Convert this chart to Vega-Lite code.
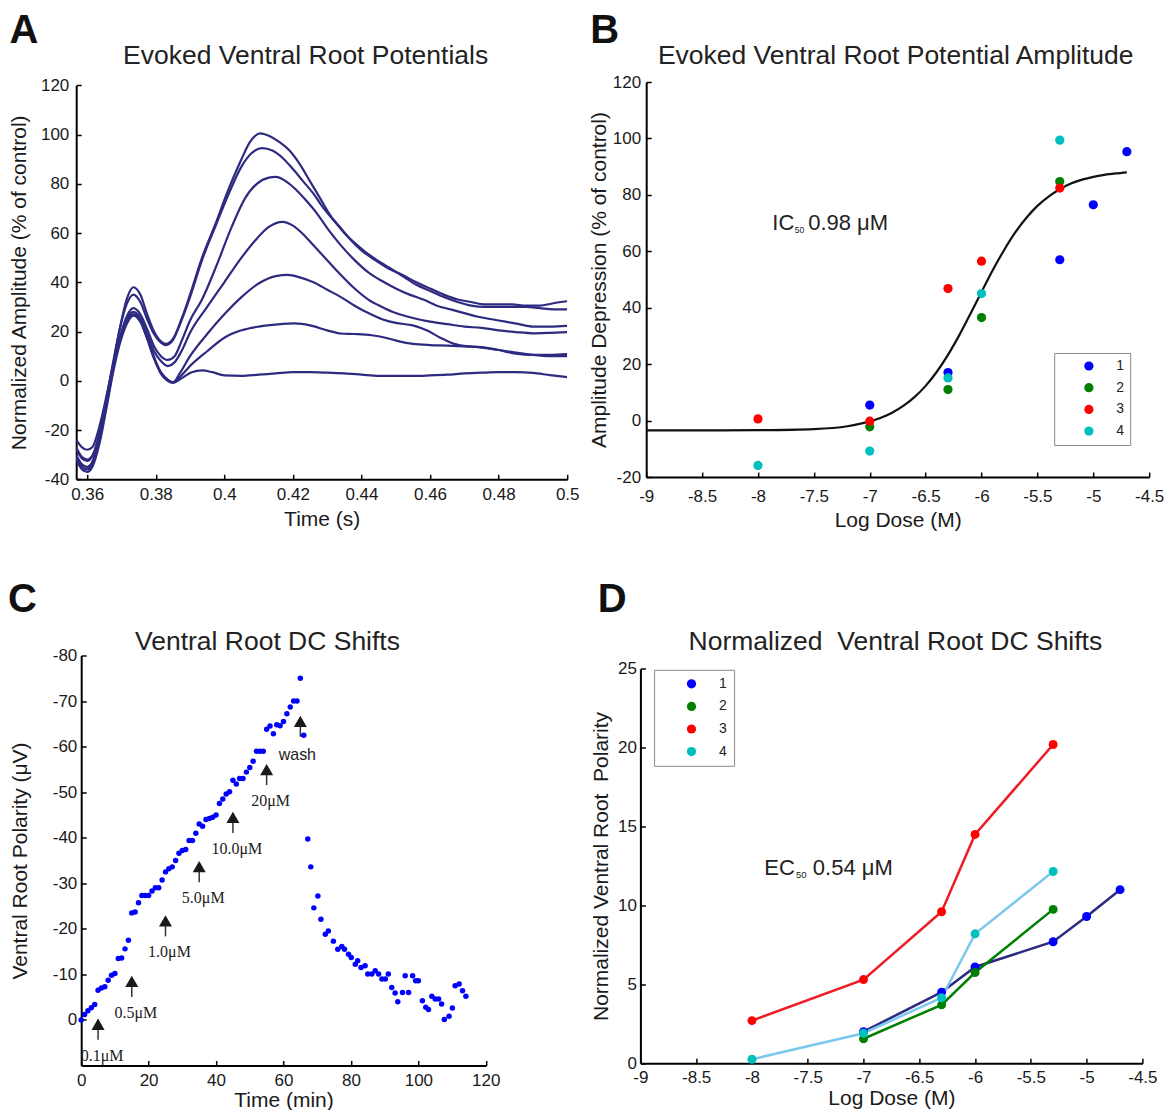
{
"$schema": "https://vega.github.io/schema/vega-lite/v6.json",
"padding": {"left": 7.2, "top": 11, "right": 0, "bottom": 2},
"config": {
  "view": {"stroke": null},
  "font": "Liberation Sans",
  "axis": {"domainColor": "#000", "domainWidth": 2, "tickColor": "#000", "tickWidth": 1.5, "tickSize": -5, "labelFontSize": 17, "labelColor": "#1a1a1a", "labelFont": "Liberation Sans", "titleFont": "Liberation Sans", "titleFontSize": 21, "titleFontWeight": "normal", "titleColor": "#1a1a1a", "grid": false, "labelFlush": false, "labelOverlap": false}
},
"datasets": {
  "traces": [
{"c":1,"t":0.3568,"v":-31},{"c":1,"t":0.3585,"v":-34},{"c":1,"t":0.36,"v":-35},{"c":1,"t":0.3615,"v":-33},{"c":1,"t":0.3635,"v":-24},{"c":1,"t":0.3655,"v":-10},{"c":1,"t":0.3675,"v":6},{"c":1,"t":0.3695,"v":21},{"c":1,"t":0.3715,"v":33},{"c":1,"t":0.3735,"v":38},{"c":1,"t":0.3755,"v":35},{"c":1,"t":0.3775,"v":27},{"c":1,"t":0.3795,"v":20},{"c":1,"t":0.3815,"v":16},{"c":1,"t":0.383,"v":15},{"c":1,"t":0.385,"v":17},{"c":1,"t":0.3875,"v":25},{"c":1,"t":0.39,"v":35},{"c":1,"t":0.3935,"v":50},{"c":1,"t":0.3975,"v":64},{"c":1,"t":0.401,"v":77},{"c":1,"t":0.405,"v":90},{"c":1,"t":0.4075,"v":97},{"c":1,"t":0.4105,"v":100.5},{"c":1,"t":0.413,"v":99.5},{"c":1,"t":0.416,"v":97},{"c":1,"t":0.419,"v":93.5},{"c":1,"t":0.422,"v":88},{"c":1,"t":0.425,"v":81},{"c":1,"t":0.428,"v":74},{"c":1,"t":0.431,"v":67},{"c":1,"t":0.434,"v":62},{"c":1,"t":0.437,"v":57},{"c":1,"t":0.44,"v":53},{"c":1,"t":0.444,"v":49},{"c":1,"t":0.448,"v":45.5},{"c":1,"t":0.452,"v":43},{"c":1,"t":0.456,"v":40},{"c":1,"t":0.46,"v":37.5},{"c":1,"t":0.464,"v":35},{"c":1,"t":0.468,"v":33},{"c":1,"t":0.472,"v":32},{"c":1,"t":0.476,"v":31},{"c":1,"t":0.48,"v":31},{"c":1,"t":0.484,"v":31},{"c":1,"t":0.488,"v":30.5},{"c":1,"t":0.492,"v":30.5},{"c":1,"t":0.496,"v":31.5},{"c":1,"t":0.5,"v":32.3},
{"c":2,"t":0.3568,"v":-28},{"c":2,"t":0.3585,"v":-31.5},{"c":2,"t":0.36,"v":-32.5},{"c":2,"t":0.3615,"v":-30.5},{"c":2,"t":0.3635,"v":-22},{"c":2,"t":0.3655,"v":-8},{"c":2,"t":0.3675,"v":7},{"c":2,"t":0.3695,"v":21},{"c":2,"t":0.3715,"v":31},{"c":2,"t":0.3735,"v":35},{"c":2,"t":0.3755,"v":32},{"c":2,"t":0.3775,"v":25},{"c":2,"t":0.3795,"v":19},{"c":2,"t":0.3815,"v":15.5},{"c":2,"t":0.383,"v":14.5},{"c":2,"t":0.385,"v":16.5},{"c":2,"t":0.3875,"v":24.5},{"c":2,"t":0.39,"v":34},{"c":2,"t":0.3935,"v":49},{"c":2,"t":0.3975,"v":63},{"c":2,"t":0.401,"v":75},{"c":2,"t":0.405,"v":87},{"c":2,"t":0.408,"v":92.5},{"c":2,"t":0.411,"v":94.5},{"c":2,"t":0.414,"v":93.5},{"c":2,"t":0.417,"v":90.5},{"c":2,"t":0.42,"v":86},{"c":2,"t":0.423,"v":81},{"c":2,"t":0.426,"v":76},{"c":2,"t":0.429,"v":70},{"c":2,"t":0.432,"v":65},{"c":2,"t":0.435,"v":60},{"c":2,"t":0.438,"v":56},{"c":2,"t":0.441,"v":52.5},{"c":2,"t":0.444,"v":49.5},{"c":2,"t":0.448,"v":46},{"c":2,"t":0.452,"v":42.5},{"c":2,"t":0.456,"v":39},{"c":2,"t":0.46,"v":36.5},{"c":2,"t":0.464,"v":34},{"c":2,"t":0.468,"v":32},{"c":2,"t":0.472,"v":30.5},{"c":2,"t":0.476,"v":30},{"c":2,"t":0.48,"v":30},{"c":2,"t":0.484,"v":30},{"c":2,"t":0.488,"v":30},{"c":2,"t":0.492,"v":29.5},{"c":2,"t":0.496,"v":29},{"c":2,"t":0.5,"v":29},
{"c":3,"t":0.3568,"v":-31},{"c":3,"t":0.3585,"v":-35},{"c":3,"t":0.36,"v":-36},{"c":3,"t":0.3615,"v":-34},{"c":3,"t":0.3635,"v":-25},{"c":3,"t":0.3655,"v":-11},{"c":3,"t":0.3675,"v":4},{"c":3,"t":0.3695,"v":17},{"c":3,"t":0.3715,"v":26},{"c":3,"t":0.3735,"v":29.5},{"c":3,"t":0.3755,"v":27},{"c":3,"t":0.3775,"v":21},{"c":3,"t":0.3795,"v":14},{"c":3,"t":0.3815,"v":10},{"c":3,"t":0.3835,"v":8.5},{"c":3,"t":0.3855,"v":10},{"c":3,"t":0.3875,"v":16},{"c":3,"t":0.39,"v":24.5},{"c":3,"t":0.3935,"v":33},{"c":3,"t":0.3975,"v":46},{"c":3,"t":0.402,"v":62},{"c":3,"t":0.406,"v":74},{"c":3,"t":0.4095,"v":80},{"c":3,"t":0.413,"v":82.5},{"c":3,"t":0.415,"v":82.8},{"c":3,"t":0.418,"v":81},{"c":3,"t":0.421,"v":77.5},{"c":3,"t":0.424,"v":73},{"c":3,"t":0.427,"v":68},{"c":3,"t":0.43,"v":62},{"c":3,"t":0.434,"v":55},{"c":3,"t":0.438,"v":49},{"c":3,"t":0.442,"v":44},{"c":3,"t":0.446,"v":40.5},{"c":3,"t":0.45,"v":37.5},{"c":3,"t":0.454,"v":35},{"c":3,"t":0.458,"v":33},{"c":3,"t":0.462,"v":30.5},{"c":3,"t":0.466,"v":29},{"c":3,"t":0.47,"v":27.5},{"c":3,"t":0.474,"v":26},{"c":3,"t":0.478,"v":25},{"c":3,"t":0.482,"v":24},{"c":3,"t":0.486,"v":23},{"c":3,"t":0.49,"v":22},{"c":3,"t":0.495,"v":22},{"c":3,"t":0.5,"v":22.3},
{"c":4,"t":0.3568,"v":-30},{"c":4,"t":0.3585,"v":-34},{"c":4,"t":0.36,"v":-35},{"c":4,"t":0.3615,"v":-33},{"c":4,"t":0.3635,"v":-24},{"c":4,"t":0.3655,"v":-10},{"c":4,"t":0.3675,"v":5},{"c":4,"t":0.3695,"v":17},{"c":4,"t":0.3715,"v":25},{"c":4,"t":0.3735,"v":28},{"c":4,"t":0.3755,"v":25.5},{"c":4,"t":0.3775,"v":19},{"c":4,"t":0.3795,"v":12},{"c":4,"t":0.3815,"v":8},{"c":4,"t":0.3835,"v":6},{"c":4,"t":0.3855,"v":7.5},{"c":4,"t":0.3875,"v":12},{"c":4,"t":0.39,"v":19.5},{"c":4,"t":0.395,"v":30},{"c":4,"t":0.4,"v":40},{"c":4,"t":0.405,"v":50},{"c":4,"t":0.409,"v":57},{"c":4,"t":0.413,"v":62.5},{"c":4,"t":0.417,"v":64.5},{"c":4,"t":0.42,"v":63},{"c":4,"t":0.423,"v":59.5},{"c":4,"t":0.426,"v":55},{"c":4,"t":0.43,"v":49},{"c":4,"t":0.434,"v":43},{"c":4,"t":0.438,"v":37.5},{"c":4,"t":0.442,"v":33},{"c":4,"t":0.446,"v":30},{"c":4,"t":0.45,"v":27.5},{"c":4,"t":0.455,"v":25.5},{"c":4,"t":0.46,"v":24},{"c":4,"t":0.465,"v":23},{"c":4,"t":0.47,"v":22},{"c":4,"t":0.475,"v":21.5},{"c":4,"t":0.48,"v":20.5},{"c":4,"t":0.485,"v":19.8},{"c":4,"t":0.49,"v":19.3},{"c":4,"t":0.495,"v":19.5},{"c":4,"t":0.5,"v":19.8},
{"c":5,"t":0.3568,"v":-32},{"c":5,"t":0.3585,"v":-36},{"c":5,"t":0.36,"v":-37},{"c":5,"t":0.3615,"v":-35},{"c":5,"t":0.3635,"v":-26},{"c":5,"t":0.3655,"v":-12},{"c":5,"t":0.3675,"v":3},{"c":5,"t":0.3695,"v":15},{"c":5,"t":0.3715,"v":23},{"c":5,"t":0.3735,"v":26.5},{"c":5,"t":0.3755,"v":24},{"c":5,"t":0.3775,"v":17},{"c":5,"t":0.3795,"v":9},{"c":5,"t":0.3815,"v":3},{"c":5,"t":0.3835,"v":0},{"c":5,"t":0.385,"v":-0.7},{"c":5,"t":0.387,"v":3},{"c":5,"t":0.39,"v":10},{"c":5,"t":0.395,"v":19},{"c":5,"t":0.4,"v":27},{"c":5,"t":0.405,"v":34},{"c":5,"t":0.41,"v":39.5},{"c":5,"t":0.415,"v":42.5},{"c":5,"t":0.4185,"v":43},{"c":5,"t":0.422,"v":42},{"c":5,"t":0.426,"v":40},{"c":5,"t":0.43,"v":37},{"c":5,"t":0.434,"v":34},{"c":5,"t":0.438,"v":30.5},{"c":5,"t":0.442,"v":27.5},{"c":5,"t":0.446,"v":25},{"c":5,"t":0.45,"v":23.5},{"c":5,"t":0.455,"v":22.5},{"c":5,"t":0.459,"v":20.5},{"c":5,"t":0.463,"v":17.5},{"c":5,"t":0.467,"v":15},{"c":5,"t":0.471,"v":14},{"c":5,"t":0.476,"v":13.5},{"c":5,"t":0.48,"v":12.5},{"c":5,"t":0.485,"v":11},{"c":5,"t":0.49,"v":10.5},{"c":5,"t":0.495,"v":10.5},{"c":5,"t":0.5,"v":10.8},
{"c":6,"t":0.3568,"v":-24},{"c":6,"t":0.3585,"v":-27},{"c":6,"t":0.36,"v":-28},{"c":6,"t":0.3615,"v":-27},{"c":6,"t":0.3635,"v":-19},{"c":6,"t":0.3655,"v":-7},{"c":6,"t":0.3675,"v":6},{"c":6,"t":0.3695,"v":17},{"c":6,"t":0.3715,"v":24.5},{"c":6,"t":0.3735,"v":27},{"c":6,"t":0.3755,"v":24.5},{"c":6,"t":0.3775,"v":17.5},{"c":6,"t":0.3795,"v":9.5},{"c":6,"t":0.3815,"v":3.5},{"c":6,"t":0.3835,"v":0.5},{"c":6,"t":0.385,"v":-0.5},{"c":6,"t":0.387,"v":1.5},{"c":6,"t":0.39,"v":6},{"c":6,"t":0.395,"v":12},{"c":6,"t":0.4,"v":17.5},{"c":6,"t":0.405,"v":20.5},{"c":6,"t":0.41,"v":22},{"c":6,"t":0.415,"v":22.8},{"c":6,"t":0.4205,"v":23.3},{"c":6,"t":0.425,"v":22.5},{"c":6,"t":0.43,"v":20.5},{"c":6,"t":0.434,"v":19.2},{"c":6,"t":0.438,"v":19},{"c":6,"t":0.443,"v":18.5},{"c":6,"t":0.447,"v":17.5},{"c":6,"t":0.451,"v":16},{"c":6,"t":0.455,"v":15},{"c":6,"t":0.46,"v":14.5},{"c":6,"t":0.465,"v":14.3},{"c":6,"t":0.47,"v":14},{"c":6,"t":0.475,"v":13.5},{"c":6,"t":0.48,"v":12.5},{"c":6,"t":0.485,"v":11.5},{"c":6,"t":0.49,"v":10.5},{"c":6,"t":0.495,"v":10},{"c":6,"t":0.5,"v":10},
{"c":7,"t":0.3568,"v":-27},{"c":7,"t":0.3585,"v":-31},{"c":7,"t":0.36,"v":-32},{"c":7,"t":0.3615,"v":-30.5},{"c":7,"t":0.3635,"v":-22},{"c":7,"t":0.3655,"v":-9},{"c":7,"t":0.3675,"v":5},{"c":7,"t":0.3695,"v":16},{"c":7,"t":0.3715,"v":24},{"c":7,"t":0.3735,"v":27},{"c":7,"t":0.3755,"v":24.5},{"c":7,"t":0.3775,"v":17.5},{"c":7,"t":0.3795,"v":9.5},{"c":7,"t":0.3815,"v":3},{"c":7,"t":0.3835,"v":0},{"c":7,"t":0.385,"v":-0.8},{"c":7,"t":0.3875,"v":1},{"c":7,"t":0.3905,"v":3.5},{"c":7,"t":0.3935,"v":4.2},{"c":7,"t":0.3965,"v":3.5},{"c":7,"t":0.4,"v":2.2},{"c":7,"t":0.405,"v":2},{"c":7,"t":0.41,"v":2.5},{"c":7,"t":0.415,"v":3},{"c":7,"t":0.42,"v":3.5},{"c":7,"t":0.425,"v":3.5},{"c":7,"t":0.43,"v":3.3},{"c":7,"t":0.435,"v":3},{"c":7,"t":0.44,"v":2.5},{"c":7,"t":0.445,"v":2},{"c":7,"t":0.45,"v":2},{"c":7,"t":0.455,"v":2},{"c":7,"t":0.46,"v":2.2},{"c":7,"t":0.465,"v":2.5},{"c":7,"t":0.47,"v":3},{"c":7,"t":0.475,"v":3.3},{"c":7,"t":0.48,"v":3.5},{"c":7,"t":0.485,"v":3.5},{"c":7,"t":0.49,"v":3.2},{"c":7,"t":0.495,"v":2.3},{"c":7,"t":0.5,"v":1.5}
  ],
  "amp": [
{"s":"1","x":-7,"y":5.5},{"s":"1","x":-6.3,"y":17},{"s":"1","x":-5.3,"y":57},{"s":"1","x":-5,"y":76.5},{"s":"1","x":-4.7,"y":95.3},
{"s":"2","x":-7,"y":-2.2},{"s":"2","x":-6.3,"y":11},{"s":"2","x":-6,"y":36.5},{"s":"2","x":-5.3,"y":84.7},
{"s":"3","x":-8,"y":0.6},{"s":"3","x":-7,"y":-0.2},{"s":"3","x":-6.3,"y":46.8},{"s":"3","x":-6,"y":56.5},{"s":"3","x":-5.3,"y":82.4},
{"s":"4","x":-8,"y":-15.9},{"s":"4","x":-7,"y":-10.8},{"s":"4","x":-6.3,"y":15.1},{"s":"4","x":-6,"y":45},{"s":"4","x":-5.3,"y":99.4}
  ],
  "fit": [
{"x":-9,"y":-3.5},{"x":-8.5,"y":-3.5},{"x":-8,"y":-3.4},{"x":-7.5,"y":-3.0},{"x":-7.2,"y":-2.0},{"x":-7,"y":-0.3},{"x":-6.9,"y":1.0},{"x":-6.8,"y":2.8},{"x":-6.7,"y":5.2},{"x":-6.6,"y":8.3},{"x":-6.5,"y":12.3},{"x":-6.4,"y":17.3},{"x":-6.3,"y":23.3},{"x":-6.2,"y":30.2},{"x":-6.1,"y":37.8},{"x":-6,"y":45.6},{"x":-5.9,"y":53.3},{"x":-5.8,"y":60.3},{"x":-5.7,"y":66.6},{"x":-5.6,"y":71.8},{"x":-5.5,"y":76.1},{"x":-5.4,"y":79.4},{"x":-5.3,"y":82},{"x":-5.2,"y":84},{"x":-5.1,"y":85.4},{"x":-5,"y":86.4},{"x":-4.9,"y":87.1},{"x":-4.8,"y":87.6},{"x":-4.7,"y":88}
  ],
  "dc": [
{"t":0,"p":0},{"t":1,"p":-1.2},{"t":2,"p":-2},{"t":3,"p":-2.7},{"t":4,"p":-3.4},{"t":5,"p":-6.5},{"t":6,"p":-7},{"t":7,"p":-7.3},{"t":8,"p":-8.7},{"t":9,"p":-9.8},{"t":10,"p":-10.2},{"t":11,"p":-13.5},{"t":12,"p":-13.6},{"t":13,"p":-15.6},{"t":14,"p":-17.5},{"t":15,"p":-23.5},{"t":16,"p":-23.7},{"t":17,"p":-25.7},{"t":18,"p":-27.3},{"t":19,"p":-27.3},{"t":20,"p":-27.3},{"t":21,"p":-28.3},{"t":22,"p":-29},{"t":23,"p":-29},{"t":24,"p":-30.7},{"t":25,"p":-32.5},{"t":26,"p":-33.2},{"t":27,"p":-33.6},{"t":28,"p":-35},{"t":29,"p":-36.6},{"t":30,"p":-37.2},{"t":31,"p":-37.4},{"t":32,"p":-39.4},{"t":33,"p":-39.4},{"t":34,"p":-41},{"t":35,"p":-43},{"t":36,"p":-42.5},{"t":37,"p":-44},{"t":38,"p":-44.2},{"t":39,"p":-44.5},{"t":40,"p":-45},{"t":41,"p":-47.5},{"t":42,"p":-48.5},{"t":43,"p":-49.6},{"t":44,"p":-50.1},{"t":45,"p":-52.6},{"t":46,"p":-51.8},{"t":47,"p":-53},{"t":48,"p":-53},{"t":49,"p":-54.4},{"t":50,"p":-55.4},{"t":51,"p":-56.8},{"t":52,"p":-59},{"t":53,"p":-59},{"t":54,"p":-59},{"t":55,"p":-63.8},{"t":56,"p":-64.5},{"t":57,"p":-62.8},{"t":58,"p":-64.8},{"t":59,"p":-64.6},{"t":60,"p":-65.5},{"t":61,"p":-67.2},{"t":62,"p":-68.7},{"t":63,"p":-70},{"t":64,"p":-70},{"t":65,"p":-75},{"t":66,"p":-62.5},
{"t":67.2,"p":-39.7},{"t":68.1,"p":-33.6},{"t":69,"p":-24.6},{"t":70.2,"p":-27.2},{"t":71.1,"p":-22.1},{"t":72.4,"p":-18.8},{"t":73.3,"p":-19.5},{"t":74.8,"p":-17.3},{"t":76.1,"p":-15.5},{"t":77.3,"p":-16.1},{"t":78.1,"p":-15.5},{"t":79.3,"p":-14.4},{"t":80.1,"p":-13.7},{"t":81.3,"p":-12.2},{"t":82,"p":-13},{"t":83,"p":-11.5},{"t":84.2,"p":-11.9},{"t":85,"p":-10.1},{"t":86.2,"p":-10.1},{"t":87.2,"p":-10.8},{"t":88.2,"p":-10.1},{"t":89.2,"p":-9},{"t":90.2,"p":-9},{"t":91.1,"p":-10.1},{"t":92.1,"p":-7.1},{"t":93.1,"p":-5.9},{"t":93.9,"p":-4},{"t":95.3,"p":-6},{"t":96.1,"p":-9.7},{"t":97.1,"p":-6},{"t":98.3,"p":-9.7},{"t":99.2,"p":-8.6},{"t":100,"p":-8.6},{"t":101.2,"p":-4.2},{"t":102.2,"p":-2.8},{"t":103,"p":-2.3},{"t":104,"p":-5.2},{"t":105,"p":-4.6},{"t":106,"p":-4.6},{"t":106.9,"p":-3.5},{"t":107.7,"p":-0.1},{"t":109.1,"p":-0.8},{"t":110.1,"p":-2.6},{"t":110.9,"p":-7.5},{"t":112.1,"p":-7.9},{"t":113.1,"p":-6.4},{"t":114.1,"p":-5.2}
  ],
  "doses": [
{"t":5,"tip":-0.7,"label":"0.1μM"},{"t":15,"tip":-10.1,"label":"0.5μM"},{"t":25,"tip":-23.4,"label":"1.0μM"},{"t":35,"tip":-35.3,"label":"5.0μM"},{"t":45,"tip":-46.1,"label":"10.0μM"},{"t":55,"tip":-56.6,"label":"20μM"},{"t":65,"tip":-67.2,"label":"wash"}
  ],
  "norm": [
{"s":"1","x":-7,"y":2.0},{"s":"1","x":-6.3,"y":4.5},{"s":"1","x":-6,"y":6.1},{"s":"1","x":-5.3,"y":7.7},{"s":"1","x":-5,"y":9.3},{"s":"1","x":-4.7,"y":11.0},
{"s":"2","x":-7,"y":1.55},{"s":"2","x":-6.3,"y":3.7},{"s":"2","x":-6,"y":5.75},{"s":"2","x":-5.3,"y":9.75},
{"s":"3","x":-8,"y":2.7},{"s":"3","x":-7,"y":5.3},{"s":"3","x":-6.3,"y":9.6},{"s":"3","x":-6,"y":14.5},{"s":"3","x":-5.3,"y":20.2},
{"s":"4","x":-8,"y":0.25},{"s":"4","x":-7,"y":1.9},{"s":"4","x":-6.3,"y":4.15},{"s":"4","x":-6,"y":8.2},{"s":"4","x":-5.3,"y":12.15}
  ]
},
"resolve": {"scale": {"color": "independent"}, "legend": {"color": "independent"}},
"spacing": 49.5,
"vconcat": [
 {"resolve": {"scale": {"color": "independent"}, "legend": {"color": "independent"}},
  "spacing": 9,
  "hconcat": [
  {"width": 491, "height": 397.3,
   "data": {"name": "traces"},
   "layer": [
    {"mark": {"type": "line", "color": "#2e2a80", "strokeWidth": 2.2, "interpolate": "monotone", "clip": true},
     "encoding": {
      "x": {"field": "t", "type": "quantitative", "scale": {"domain": [0.3568, 0.5], "nice": false, "zero": false},
            "axis": {"title": "Time (s)", "values": [0.36,0.38,0.4,0.42,0.44,0.46,0.48,0.5], "labelExpr": "'' + datum.value", "labelPadding": 11.7, "titlePadding": 6}},
      "y": {"field": "v", "type": "quantitative", "scale": {"domain": [-40, 120], "nice": false, "zero": false, "range": [397.3, 3.3]},
            "axis": {"title": "Normalized Amplitude (% of control)", "values": [-40,-20,0,20,40,60,80,100,120], "labelExpr": "'' + datum.value", "labelPadding": 12.4, "titlePadding": 10.5}},
      "detail": {"field": "c", "type": "nominal"}
     }},
    {"data": {"values": [{}]}, "mark": {"type": "text", "text": "A", "font": "Liberation Sans", "fontSize": 40, "fontWeight": "bold", "align": "center", "baseline": "alphabetic", "color": "#111"},
     "encoding": {"x": {"datum": 0.34158, "type": "quantitative"}, "y": {"datum": 137.06, "type": "quantitative"}}},
    {"data": {"values": [{}]}, "mark": {"type": "text", "text": "Evoked Ventral Root Potentials", "font": "Liberation Sans", "fontSize": 26.5, "align": "center", "baseline": "alphabetic", "color": "#222"},
     "encoding": {"x": {"datum": 0.4237, "type": "quantitative"}, "y": {"datum": 128.8, "type": "quantitative"}}}
   ]},
  {"width": 503, "height": 395,
   "layer": [
    {"data": {"name": "fit"},
     "mark": {"type": "line", "color": "#111", "strokeWidth": 2.2, "interpolate": "monotone"},
     "encoding": {
      "x": {"field": "x", "type": "quantitative", "scale": {"domain": [-9, -4.5], "nice": false, "zero": false},
            "axis": {"title": "Log Dose (M)", "values": [-9,-8.5,-8,-7.5,-7,-6.5,-6,-5.5,-5,-4.5], "labelExpr": "'' + datum.value", "labelPadding": 16, "titlePadding": 5}},
      "y": {"field": "y", "type": "quantitative", "scale": {"domain": [-20, 120], "nice": false, "zero": false},
            "axis": {"title": "Amplitude Depression (% of control)", "values": [-20,0,20,40,60,80,100,120], "labelExpr": "'' + datum.value", "labelPadding": 10.6, "titlePadding": 3}}
     }},
    {"data": {"name": "amp"},
     "mark": {"type": "point", "filled": true, "size": 85, "opacity": 1, "shape": "circle"},
     "encoding": {
      "x": {"field": "x", "type": "quantitative"},
      "y": {"field": "y", "type": "quantitative"},
      "color": {"field": "s", "type": "nominal", "scale": {"domain": ["1","2","3","4"], "range": ["#0000ff","#008000","#ff0000","#00bfbf"]},
                "legend": {"title": null, "orient": "none", "legendX": 408, "legendY": 271, "padding": 6, "symbolOffset": 21.7, "labelOffset": 20.3, "rowPadding": 7.7, "strokeColor": "#8a8a8a", "fillColor": "#ffffff", "labelFontSize": 14, "labelFont": "Liberation Sans", "labelColor": "#222", "symbolSize": 85, "symbolType": "circle", "symbolStrokeWidth": 0}}
     }},
    {"data": {"values": [{}]}, "mark": {"type": "text", "text": "B", "font": "Liberation Sans", "fontSize": 40, "fontWeight": "bold", "align": "center", "baseline": "alphabetic", "color": "#111"},
     "encoding": {"x": {"datum": -9.3713, "type": "quantitative"}, "y": {"datum": 133.7, "type": "quantitative"}}},
    {"data": {"values": [{}]}, "mark": {"type": "text", "text": "Evoked Ventral Root Potential Amplitude", "font": "Liberation Sans", "fontSize": 26.5, "align": "center", "baseline": "alphabetic", "color": "#222"},
     "encoding": {"x": {"datum": -6.768, "type": "quantitative"}, "y": {"datum": 126.5, "type": "quantitative"}}},
    {"data": {"values": [{}]}, "mark": {"type": "text", "text": "IC", "font": "Liberation Sans", "fontSize": 22, "align": "right", "baseline": "alphabetic", "color": "#222"},
     "encoding": {"x": {"datum": -7.675, "type": "quantitative"}, "y": {"datum": 67.5, "type": "quantitative"}}},
    {"data": {"values": [{}]}, "mark": {"type": "text", "text": "50", "font": "Liberation Sans", "fontSize": 8.5, "align": "left", "baseline": "alphabetic", "dx": 0.5, "dy": 3, "color": "#222"},
     "encoding": {"x": {"datum": -7.675, "type": "quantitative"}, "y": {"datum": 67.5, "type": "quantitative"}}},
    {"data": {"values": [{}]}, "mark": {"type": "text", "text": "0.98 μM", "font": "Liberation Sans", "fontSize": 22, "align": "left", "baseline": "alphabetic", "color": "#222"},
     "encoding": {"x": {"datum": -7.551, "type": "quantitative"}, "y": {"datum": 67.5, "type": "quantitative"}}}
   ]}
 ]},
 {"resolve": {"scale": {"color": "independent"}, "legend": {"color": "independent"}},
  "spacing": 90.2,
  "hconcat": [
  {"width": 409.6, "height": 410,
   "layer": [
    {"data": {"name": "dc"},
     "mark": {"type": "circle", "size": 30, "color": "#0000ff", "opacity": 1},
     "encoding": {
      "x": {"field": "t", "type": "quantitative", "scale": {"domain": [0, 120], "nice": false, "zero": false, "range": [5, 409.6]},
            "axis": {"title": "Time (min)", "values": [0,20,40,60,80,100,120], "labelExpr": "'' + datum.value", "labelPadding": 11.7, "titlePadding": 1.5}},
      "y": {"field": "p", "type": "quantitative", "scale": {"domain": [-80, 10], "nice": false, "zero": false, "reverse": true},
            "axis": {"title": "Ventral Root Polarity (μV)", "values": [-80,-70,-60,-50,-40,-30,-20,-10,0], "labelExpr": "'' + datum.value", "labelPadding": 9.4, "titlePadding": 22, "offset": -5}}
     }},
    {"data": {"name": "doses"},
     "mark": {"type": "rule", "color": "#333", "strokeWidth": 1.5, "yOffset": 11, "y2Offset": 23},
     "encoding": {"x": {"field": "t", "type": "quantitative"}, "y": {"field": "tip", "type": "quantitative"}, "y2": {"field": "tip"}}},
    {"data": {"name": "doses"},
     "mark": {"type": "point", "shape": "triangle-up", "filled": true, "size": 170, "color": "#1a1a1a", "opacity": 1, "yOffset": 7.5},
     "encoding": {"x": {"field": "t", "type": "quantitative"}, "y": {"field": "tip", "type": "quantitative"}}},
    {"data": {"name": "doses"},
     "transform": [{"filter": "datum.label != 'wash'"}],
     "mark": {"type": "text", "font": "Liberation Serif", "fontSize": 16, "align": "center", "baseline": "middle", "dx": 4, "dy": 39, "color": "#222"},
     "encoding": {"x": {"field": "t", "type": "quantitative"}, "y": {"field": "tip", "type": "quantitative"}, "text": {"field": "label"}}},
    {"data": {"name": "doses"},
     "transform": [{"filter": "datum.label == 'wash'"}],
     "mark": {"type": "text", "font": "Liberation Sans", "fontSize": 16, "align": "center", "baseline": "middle", "dx": -3, "dy": 41, "color": "#222"},
     "encoding": {"x": {"field": "t", "type": "quantitative"}, "y": {"field": "tip", "type": "quantitative"}, "text": {"field": "label"}}},
    {"data": {"values": [{}]}, "mark": {"type": "text", "text": "C", "font": "Liberation Sans", "fontSize": 40, "fontWeight": "bold", "align": "center", "baseline": "alphabetic", "color": "#111"},
     "encoding": {"x": {"datum": -17.41, "type": "quantitative"}, "y": {"datum": -89.44, "type": "quantitative"}}},
    {"data": {"values": [{}]}, "mark": {"type": "text", "text": "Ventral Root DC Shifts", "font": "Liberation Sans", "fontSize": 26.5, "align": "center", "baseline": "alphabetic", "color": "#222"},
     "encoding": {"x": {"datum": 55.25, "type": "quantitative"}, "y": {"datum": -81.3, "type": "quantitative"}}}
   ]},
  {"width": 502, "height": 407.7,
   "resolve": {"scale": {"color": "independent"}, "legend": {"color": "independent"}},
   "layer": [
    {"data": {"name": "norm"},
     "mark": {"type": "line", "strokeWidth": 2.5},
     "encoding": {
      "x": {"field": "x", "type": "quantitative", "scale": {"domain": [-9, -4.5], "nice": false, "zero": false},
            "axis": {"title": "Log Dose (M)", "values": [-9,-8.5,-8,-7.5,-7,-6.5,-6,-5.5,-5,-4.5], "labelExpr": "'' + datum.value", "labelPadding": 11.7, "titlePadding": 2}},
      "y": {"field": "y", "type": "quantitative", "scale": {"domain": [0, 25], "nice": false, "zero": false, "range": [407.7, 13.3]},
            "axis": {"title": "Normalized Ventral Root\u00a0 Polarity", "values": [0,5,10,15,20,25], "labelExpr": "'' + datum.value", "labelPadding": 9, "titlePadding": 6}},
      "color": {"field": "s", "type": "nominal", "scale": {"domain": ["1","2","3","4"], "range": ["#2b2a80","#008000","#ee1c24","#7ec8ee"]}, "legend": null}
     }},
    {"data": {"name": "norm"},
     "mark": {"type": "point", "filled": true, "size": 80, "opacity": 1, "shape": "circle"},
     "encoding": {
      "x": {"field": "x", "type": "quantitative"},
      "y": {"field": "y", "type": "quantitative"},
      "color": {"field": "s", "type": "nominal", "scale": {"domain": ["1","2","3","4"], "range": ["#0000ff","#008000","#ff0000","#00bfbf"]},
                "legend": {"title": null, "orient": "none", "legendX": 13.7, "legendY": 14.3, "padding": 7, "symbolOffset": 23.4, "labelOffset": 20.6, "rowPadding": 8.6, "strokeColor": "#8a8a8a", "fillColor": "#ffffff", "labelFontSize": 14, "labelFont": "Liberation Sans", "labelColor": "#222", "symbolSize": 85, "symbolType": "circle", "symbolStrokeWidth": 0}}
     }},
    {"data": {"values": [{}]}, "mark": {"type": "text", "text": "D", "font": "Liberation Sans", "fontSize": 40, "fontWeight": "bold", "align": "center", "baseline": "alphabetic", "color": "#111"},
     "encoding": {"x": {"datum": -9.2537, "type": "quantitative"}, "y": {"datum": 28.57, "type": "quantitative"}}},
    {"data": {"values": [{}]}, "mark": {"type": "text", "text": "Normalized\u00a0 Ventral Root DC Shifts", "font": "Liberation Sans", "fontSize": 26.5, "align": "center", "baseline": "alphabetic", "color": "#222"},
     "encoding": {"x": {"datum": -6.714, "type": "quantitative"}, "y": {"datum": 26.22, "type": "quantitative"}}},
    {"data": {"values": [{}]}, "mark": {"type": "text", "text": "EC", "font": "Liberation Sans", "fontSize": 22, "align": "right", "baseline": "alphabetic", "color": "#222"},
     "encoding": {"x": {"datum": -7.615, "type": "quantitative"}, "y": {"datum": 11.96, "type": "quantitative"}}},
    {"data": {"values": [{}]}, "mark": {"type": "text", "text": "50", "font": "Liberation Sans", "fontSize": 9.5, "align": "left", "baseline": "alphabetic", "dx": 1, "dy": 3, "color": "#222"},
     "encoding": {"x": {"datum": -7.615, "type": "quantitative"}, "y": {"datum": 11.96, "type": "quantitative"}}},
    {"data": {"values": [{}]}, "mark": {"type": "text", "text": "0.54 μM", "font": "Liberation Sans", "fontSize": 22, "align": "left", "baseline": "alphabetic", "color": "#222"},
     "encoding": {"x": {"datum": -7.454, "type": "quantitative"}, "y": {"datum": 11.96, "type": "quantitative"}}}
   ]}
 ]}
]
}
